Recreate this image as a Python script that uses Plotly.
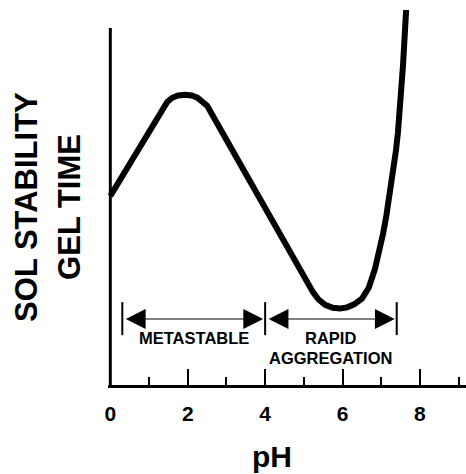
import plotly.graph_objects as go

# Curve data (pH vs relative sol stability / gel time, arbitrary units)
ph = [0.0, 0.5, 1.0, 1.47, 1.6, 1.75, 1.94, 2.1, 2.25, 2.38, 2.5, 3.0, 3.61, 4.0, 4.6, 5.1, 5.24,
      5.38, 5.55, 5.75, 5.94, 6.12, 6.3, 6.5, 6.68, 6.84, 6.96, 7.05, 7.13, 7.2, 7.27, 7.33, 7.38,
      7.43, 7.47, 7.51, 7.56, 7.61, 7.66]
stability = [5.04, 5.9, 6.75, 7.55, 7.66, 7.72, 7.74, 7.72, 7.66, 7.57, 7.45, 6.54, 5.42, 4.71, 3.62, 2.71, 2.47,
             2.28, 2.14, 2.06, 2.04, 2.07, 2.15, 2.3, 2.6, 3.1, 3.6, 4.05, 4.5, 4.93, 5.4, 5.81, 6.25,
             6.72, 7.15, 7.6, 8.48, 9.39, 10.3]

# Region bounds and labels
region_bounds = [0.31, 4.0, 7.4]
region_labels = ["METASTABLE", "RAPID\nAGGREGATION"]

x_ticks = [0, 2, 4, 6, 8]
x_title = "pH"
y_title_lines = ["SOL STABILITY", "GEL TIME"]

BOLD = "Liberation Sans Narrow, Arial Narrow, Liberation Sans, Arial, sans-serif"
SANS = "Liberation Sans, Arial, Helvetica, sans-serif"

fig = go.Figure()
fig.add_trace(go.Scatter(
    x=ph, y=stability, mode="lines",
    line=dict(color="black", width=6, shape="linear"),
    hoverinfo="skip", showlegend=False,
))

# y-axis line
fig.add_shape(type="line", xref="x", yref="y", x0=0, x1=0, y0=0, y1=9.52,
              line=dict(color="black", width=3))

# Region boundary bars
for b in region_bounds:
    fig.add_shape(type="line", xref="x", yref="y", x0=b, x1=b, y0=1.33, y1=2.21,
                  line=dict(color="black", width=2))

# Double-headed arrows and region labels
for i in range(len(region_bounds) - 1):
    fig.add_annotation(x=region_bounds[i + 1], y=1.76, ax=region_bounds[i], ay=1.76,
                       xref="x", yref="y", axref="x", ayref="y", text="",
                       showarrow=True, arrowside="end+start", arrowhead=2,
                       arrowsize=3.3, arrowwidth=1.2, arrowcolor="black",
                       standoff=2, startstandoff=2)
    mid = (region_bounds[i] + region_bounds[i + 1]) / 2
    for k, line in enumerate(region_labels[i].split("\n")):
        fig.add_annotation(x=mid, y=1.25 - k * 0.52, xref="x", yref="y", text=line,
                           showarrow=False, yanchor="middle",
                           font=dict(family=SANS, size=16.5, color="black", weight="bold"))

# y title lines
for t, px in zip(y_title_lines, [27, 70]):
    fig.add_annotation(x=(px - 108) / 358.0, y=0.475, xref="paper", yref="paper",
                       text=t, textangle=-90, showarrow=False,
                       xanchor="center", yanchor="middle",
                       font=dict(family=BOLD, size=31, color="black", weight="bold"))

# x title
fig.add_annotation(x=(272 - 108) / 358.0, y=-0.19, xref="paper", yref="paper",
                   text=x_title, showarrow=False, xanchor="center", yanchor="middle",
                   font=dict(family=SANS, size=30, color="black", weight="bold"))

fig.update_xaxes(range=[-0.06, 9.19], tickvals=x_ticks, ticktext=[str(v) for v in x_ticks],
                 ticks="inside", ticklen=16, tickwidth=2, tickcolor="black",
                 minor=dict(ticks="inside", ticklen=8, tickwidth=2, dtick=1, tick0=0, tickcolor="black"),
                 showline=True, linewidth=3, linecolor="black",
                 showgrid=False, zeroline=False, ticklabelstandoff=8,
                 tickfont=dict(family=SANS, size=21, color="black", weight="bold"))
fig.update_yaxes(range=[0, 10], showline=False, showticklabels=False, ticks="",
                 showgrid=False, zeroline=False)

fig.update_layout(width=466, height=474, margin=dict(l=108, r=0, t=10, b=89),
                  plot_bgcolor="white", paper_bgcolor="white")

fig.write_html("out.html")
